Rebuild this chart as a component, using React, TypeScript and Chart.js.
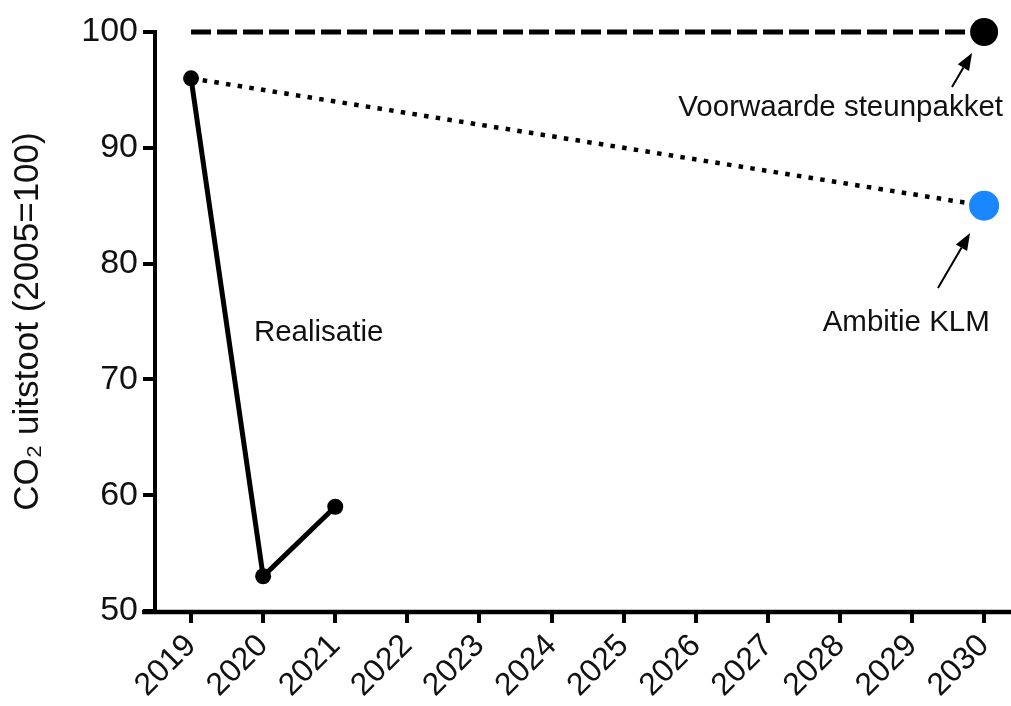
import React, { useEffect, useRef } from "react";
import { Chart, registerables } from "chart.js";

Chart.register(...registerables);

// ---- data ----
const realisatieYears = [2019, 2020, 2021];
const realisatieValues = [96, 53, 59];
const ambitieYears = [2019, 2030];
const ambitieValues = [96, 85];
const voorwaardeYears = [2019, 2030];
const voorwaardeValues = [100, 100];
const xTickYears = [2019, 2020, 2021, 2022, 2023, 2024, 2025, 2026, 2027, 2028, 2029, 2030];
const yTickValues = [50, 60, 70, 80, 90, 100];
const yTitle = "CO\u2082 uitstoot (2005=100)";

// ---- annotations (text + arrows, in data coordinates) ----
const notes = [
  { text: "Realisatie", x: 2020.77, y: 74.0 },
  { text: "Voorwaarde steunpakket", x: 2028.01, y: 93.44 },
  { text: "Ambitie KLM", x: 2028.92, y: 74.87 },
];
const arrows = [
  { fx: 2029.555, fy: 95.25, tx: 2029.833, ty: 98.19 },
  { fx: 2029.36, fy: 77.89, tx: 2029.805, ty: 82.64 },
];

const FONT = "'Liberation Sans', Arial, Helvetica, sans-serif";

const toXY = (xs: number[], ys: number[]) => xs.map((x, i) => ({ x, y: ys[i] }));

const annotationPlugin = {
  id: "annotations",
  afterDraw(chart: any) {
    const { ctx, scales } = chart;
    const xs = scales.x;
    const ys = scales.y;
    ctx.save();
    // x-axis line, extending left of the y-axis and to the right edge
    const by = Math.round(xs.top) + 1;
    ctx.strokeStyle = "#000";
    ctx.lineWidth = 4.5;
    ctx.beginPath();
    ctx.moveTo(142, by);
    ctx.lineTo(1011, by);
    ctx.stroke();

    ctx.fillStyle = "#111";
    ctx.font = `29.5px ${FONT}`;
    ctx.textAlign = "center";
    ctx.textBaseline = "middle";
    for (const n of notes) {
      ctx.fillText(n.text, xs.getPixelForValue(n.x), ys.getPixelForValue(n.y));
    }
    for (const a of arrows) {
      const x1 = xs.getPixelForValue(a.fx);
      const y1 = ys.getPixelForValue(a.fy);
      const x2 = xs.getPixelForValue(a.tx);
      const y2 = ys.getPixelForValue(a.ty);
      const ang = Math.atan2(y2 - y1, x2 - x1);
      const hl = 17;
      const hw = 6.5;
      const bx = x2 - hl * Math.cos(ang);
      const by2 = y2 - hl * Math.sin(ang);
      ctx.strokeStyle = "#000";
      ctx.lineWidth = 2;
      ctx.beginPath();
      ctx.moveTo(x1, y1);
      ctx.lineTo(bx, by2);
      ctx.stroke();
      ctx.fillStyle = "#000";
      ctx.beginPath();
      ctx.moveTo(x2, y2);
      ctx.lineTo(bx + hw * Math.sin(ang), by2 - hw * Math.cos(ang));
      ctx.lineTo(bx - hw * Math.sin(ang), by2 + hw * Math.cos(ang));
      ctx.closePath();
      ctx.fill();
    }
    ctx.restore();
  },
};

export default function App() {
  const ref = useRef<HTMLCanvasElement | null>(null);

  useEffect(() => {
    if (!ref.current) return;
    const chart = new Chart(ref.current, {
      type: "line",
      data: {
        datasets: [
          {
            label: "Voorwaarde steunpakket",
            data: toXY(voorwaardeYears, voorwaardeValues),
            borderColor: "#000",
            borderWidth: 5,
            borderDash: [20, 6],
            pointRadius: [0, 14],
            pointBackgroundColor: "#000",
            pointBorderColor: "#000",
            pointBorderWidth: 0,
            clip: false as any,
          },
          {
            label: "Ambitie KLM",
            data: toXY(ambitieYears, ambitieValues),
            borderColor: "#000",
            borderWidth: 4.5,
            borderDash: [4.5, 7.3],
            pointRadius: [0, 15],
            pointBackgroundColor: "#1A86FF",
            pointBorderColor: "#1A86FF",
            pointBorderWidth: 0,
            clip: false as any,
          },
          {
            label: "Realisatie",
            data: toXY(realisatieYears, realisatieValues),
            borderColor: "#000",
            borderWidth: 5,
            pointRadius: 8,
            pointBackgroundColor: "#000",
            pointBorderColor: "#000",
            pointBorderWidth: 0,
            clip: false as any,
          },
        ],
      },
      options: {
        responsive: false,
        animation: false,
        layout: { padding: { top: 32, left: 0, right: 3, bottom: 0 } },
        plugins: {
          legend: { display: false },
          tooltip: { enabled: false },
        },
        scales: {
          x: {
            type: "linear",
            min: 2018.5,
            max: 2030.165,
            afterBuildTicks: (scale: any) => {
              scale.ticks = xTickYears.map((v) => ({ value: v }));
            },
            afterFit: (scale: any) => {
              scale.height = 95;
              scale.paddingLeft = 0;
              scale.paddingRight = 0;
            },
            grid: {
              drawOnChartArea: false,
              drawTicks: true,
              tickLength: 12,
              lineWidth: 4,
              tickColor: "#000",
              color: "#000",
            },
            border: { display: false },
            ticks: {
              autoSkip: false,
              minRotation: 45,
              maxRotation: 45,
              padding: 4,
              color: "#111",
              font: { family: FONT, size: 32 },
              callback: (v: any) => String(v),
            },
          },
          y: {
            type: "linear",
            min: 50,
            max: 100,
            afterBuildTicks: (scale: any) => {
              scale.ticks = yTickValues.map((v) => ({ value: v }));
            },
            afterFit: (scale: any) => {
              scale.width = 155;
              scale.paddingTop = 0;
              scale.paddingBottom = 0;
            },
            grid: {
              drawOnChartArea: false,
              drawTicks: true,
              tickLength: 12,
              lineWidth: 4,
              tickColor: "#000",
              color: "#000",
            },
            border: { display: true, width: 4, color: "#000" },
            ticks: {
              padding: 5,
              color: "#111",
              font: { family: FONT, size: 34 },
              callback: (v: any) => String(v),
            },
            title: {
              display: true,
              text: yTitle,
              color: "#111",
              font: { family: FONT, size: 35 },
              padding: { top: 7, bottom: 0 },
            },
          },
        },
      },
      plugins: [annotationPlugin],
    } as any);
    return () => chart.destroy();
  }, []);

  return (
    <div style={{ position: "fixed", left: 0, top: 0, width: 1011, height: 706, background: "#fff" }}>
      <canvas ref={ref} width={1011} height={706} style={{ display: "block", width: 1011, height: 706 }} />
    </div>
  );
}
